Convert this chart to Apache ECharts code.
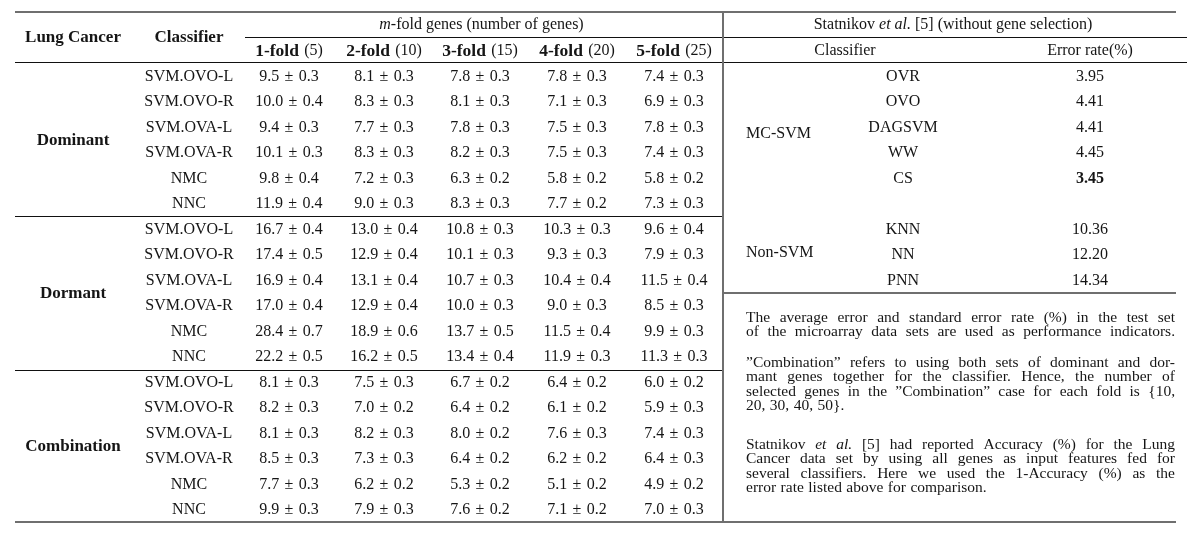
<!DOCTYPE html>
<html><head><meta charset="utf-8">
<script src="https://cdn.jsdelivr.net/npm/echarts@6.0.0/dist/echarts.min.js"></script>
<style>html,body{margin:0;padding:0;background:#fff}#c{width:1200px;height:542px}</style>
</head><body><div id="c"></div>
<script>
// ---------------- DATA ----------------
const groups = ['Dominant', 'Dormant', 'Combination'];
const classifiers = ['SVM.OVO-L', 'SVM.OVO-R', 'SVM.OVA-L', 'SVM.OVA-R', 'NMC', 'NNC'];
const foldNames = ['1-fold', '2-fold', '3-fold', '4-fold', '5-fold'];
const foldGenes = [5, 10, 15, 20, 25];

const dominantMean = [
  [9.5, 8.1, 7.8, 7.8, 7.4],
  [10.0, 8.3, 8.1, 7.1, 6.9],
  [9.4, 7.7, 7.8, 7.5, 7.8],
  [10.1, 8.3, 8.2, 7.5, 7.4],
  [9.8, 7.2, 6.3, 5.8, 5.8],
  [11.9, 9.0, 8.3, 7.7, 7.3]
];
const dominantSE = [
  [0.3, 0.3, 0.3, 0.3, 0.3],
  [0.4, 0.3, 0.3, 0.3, 0.3],
  [0.3, 0.3, 0.3, 0.3, 0.3],
  [0.3, 0.3, 0.3, 0.3, 0.3],
  [0.4, 0.3, 0.2, 0.2, 0.2],
  [0.4, 0.3, 0.3, 0.2, 0.3]
];
const dormantMean = [
  [16.7, 13.0, 10.8, 10.3, 9.6],
  [17.4, 12.9, 10.1, 9.3, 7.9],
  [16.9, 13.1, 10.7, 10.4, 11.5],
  [17.0, 12.9, 10.0, 9.0, 8.5],
  [28.4, 18.9, 13.7, 11.5, 9.9],
  [22.2, 16.2, 13.4, 11.9, 11.3]
];
const dormantSE = [
  [0.4, 0.4, 0.3, 0.3, 0.4],
  [0.5, 0.4, 0.3, 0.3, 0.3],
  [0.4, 0.4, 0.3, 0.4, 0.4],
  [0.4, 0.4, 0.3, 0.3, 0.3],
  [0.7, 0.6, 0.5, 0.4, 0.3],
  [0.5, 0.5, 0.4, 0.3, 0.3]
];
const combinationMean = [
  [8.1, 7.5, 6.7, 6.4, 6.0],
  [8.2, 7.0, 6.4, 6.1, 5.9],
  [8.1, 8.2, 8.0, 7.6, 7.4],
  [8.5, 7.3, 6.4, 6.2, 6.4],
  [7.7, 6.2, 5.3, 5.1, 4.9],
  [9.9, 7.9, 7.6, 7.1, 7.0]
];
const combinationSE = [
  [0.3, 0.3, 0.2, 0.2, 0.2],
  [0.3, 0.2, 0.2, 0.2, 0.3],
  [0.3, 0.3, 0.2, 0.3, 0.3],
  [0.3, 0.3, 0.2, 0.2, 0.3],
  [0.3, 0.2, 0.2, 0.2, 0.2],
  [0.3, 0.3, 0.2, 0.2, 0.3]
];

const statGroups = ['MC-SVM', 'Non-SVM'];
const mcsvmNames = ['OVR', 'OVO', 'DAGSVM', 'WW', 'CS'];
const mcsvmError = [3.95, 4.41, 4.41, 4.45, 3.45];
const nonsvmNames = ['KNN', 'NN', 'PNN'];
const nonsvmError = [10.36, 12.20, 14.34];
const bestStatIndex = 4;

// '*' prefix = italic word; second entry = justified line
const noteParagraphs = [
  [
    ['The average error and standard error rate (%) in the test set', true],
    ['of the microarray data sets are used as performance indicators.', true]
  ],
  [
    ['\u201DCombination\u201D refers to using both sets of dominant and dor-', true],
    ['mant genes together for the classifier.  Hence, the number of', true],
    ['selected genes in the \u201DCombination\u201D case for each fold is {10,', true],
    ['20, 30, 40, 50}.', false]
  ],
  [
    ['Statnikov *et *al. [5] had reported Accuracy (%) for the Lung', true],
    ['Cancer data set by using all genes as input features fed for', true],
    ['several classifiers.  Here we used the 1-Accuracy (%) as the', true],
    ['error rate listed above for comparison.', false]
  ]
];

// ---------------- LAYOUT ----------------
const FONT = '"Liberation Serif", "Times New Roman", serif';
const FS = 16;
const BFS = 17;
const NOTE_FS = 13.6;
const TXT = '#151515';
const LAY = {
  colX: [73, 189, 289, 384, 480, 577, 674],
  row0: 76.5, rowH: 25.5,
  hdr1: 25, hdrMid: 37.5, hdr2: 51,
  statHeadX: 953, statClsHeadX: 845, statNameX: 903, statValX: 1090, statGroupX: 746,
  noteLeft: 746, noteRight: 1175,
  noteY: [[318, 332.5], [363, 377.5, 392, 406.5], [445, 459.5, 474, 488.5]]
};
const rowY = i => LAY.row0 + LAY.rowH * i;

const texts = [];
function addText(x, y, text, o) {
  o = o || {};
  texts.push({ pos: [x, y], text: text, size: o.size || FS, weight: o.weight || 'normal',
    fstyle: o.fstyle || 'normal', align: o.align || 'center', rich: o.rich, sx: o.sx || 1 });
}
const richI = { i: { fontStyle: 'italic', fontFamily: FONT, fontSize: FS, fill: TXT } };
const richB = { b: { fontWeight: 'bold', fontFamily: FONT, fontSize: 17.5, fill: TXT } };

// headers
addText(LAY.colX[0], LAY.hdrMid, 'Lung Cancer', { weight: 'bold', size: BFS });
addText(LAY.colX[1], LAY.hdrMid, 'Classifier', { weight: 'bold', size: BFS });
addText((LAY.colX[2] + LAY.colX[6]) / 2, LAY.hdr1, '{i|m}-fold genes (number of genes)', { rich: richI });
foldNames.forEach((f, k) => addText(LAY.colX[2 + k], LAY.hdr2, '{b|' + f + '}\u2004(' + foldGenes[k] + ')', { rich: richB }));

// body
const groupMeans = [dominantMean, dormantMean, combinationMean];
const groupSEs = [dominantSE, dormantSE, combinationSE];
groups.forEach((g, gi) => {
  const r0 = gi * classifiers.length;
  addText(LAY.colX[0], (rowY(r0) + rowY(r0 + classifiers.length - 1)) / 2, g, { weight: 'bold', size: BFS });
  classifiers.forEach((c, ci) => {
    const y = rowY(r0 + ci);
    addText(LAY.colX[1], y, c);
    groupMeans[gi][ci].forEach((m, k) => {
      addText(LAY.colX[2 + k], y, m.toFixed(1) + '\u2004\u00B1\u2004' + groupSEs[gi][ci][k].toFixed(1));
    });
  });
});

// right block
addText(LAY.statHeadX, LAY.hdr1, 'Statnikov {i|et al.} [5] (without gene selection)', { rich: richI });
addText(LAY.statClsHeadX, LAY.hdr2, 'Classifier');
addText(LAY.statValX, LAY.hdr2, 'Error rate(%)');
addText(LAY.statGroupX, rowY(2.25), statGroups[0], { align: 'left' });
mcsvmNames.forEach((n, i) => {
  addText(LAY.statNameX, rowY(i), n);
  addText(LAY.statValX, rowY(i), mcsvmError[i].toFixed(2), { weight: i === bestStatIndex ? 'bold' : 'normal' });
});
addText(LAY.statGroupX, rowY(6.9), statGroups[1], { align: 'left' });
nonsvmNames.forEach((n, i) => {
  addText(LAY.statNameX, rowY(6 + i), n);
  addText(LAY.statValX, rowY(6 + i), nonsvmError[i].toFixed(2));
});

// notes (justified word by word, widened glyphs to mimic Computer Modern)
const cv = document.createElement('canvas').getContext('2d');
function measure(w, italic, size) {
  cv.font = (italic ? 'italic ' : '') + size + 'px ' + FONT;
  return cv.measureText(w).width;
}
const span = LAY.noteRight - LAY.noteLeft;
const allLines = [];
noteParagraphs.forEach((para, pi) => para.forEach((ln, li) => {
  const words = ln[0].split(/\s+/).map(w => w[0] === '*' ? { t: w.slice(1), it: true } : { t: w, it: false });
  words.forEach(w => { w.w = measure(w.t, w.it, NOTE_FS); });
  allLines.push({ y: LAY.noteY[pi][li], justify: ln[1], words: words });
}));
const MIN_GAP = 0.3 * NOTE_FS;
let noteScale = 1.14;
allLines.forEach(l => {
  if (!l.justify) return;
  const tot = l.words.reduce((a, w) => a + w.w, 0);
  noteScale = Math.min(noteScale, (span - (l.words.length - 1) * MIN_GAP) / tot);
});
allLines.forEach(l => {
  const total = l.words.reduce((a, w) => a + w.w * noteScale, 0);
  const gap = l.justify ? (span - total) / (l.words.length - 1) : 0.33 * NOTE_FS;
  let x = LAY.noteLeft;
  l.words.forEach(w => {
    addText(x, l.y, w.t, { align: 'left', size: NOTE_FS, fstyle: w.it ? 'italic' : 'normal', sx: noteScale });
    x += w.w * noteScale + gap;
  });
});

// rules: [x1, y1, x2, y2, kind]
const rules = [
  [15, 12, 1176, 12, 'thick'],
  [245, 37.5, 722, 37.5, 'thin'],
  [724, 37.5, 1187, 37.5, 'thin'],
  [15, 62.5, 1187, 62.5, 'thin'],
  [15, 216.5, 723, 216.5, 'thin'],
  [15, 370.5, 723, 370.5, 'thin'],
  [723, 293, 1176, 293, 'thick'],
  [15, 522, 1176, 522, 'thick'],
  [723, 12, 723, 522, 'vert']
];
const ruleStyle = {
  thick: { stroke: '#6f6f6f', lineWidth: 2 },
  thin: { stroke: '#111', lineWidth: 1.1 },
  vert: { stroke: '#6f6f6f', lineWidth: 2 }
};

// ---------------- CHART ----------------
const chart = echarts.init(document.getElementById('c'));
chart.setOption({
  animation: false,
  backgroundColor: '#fff',
  grid: { left: 0, right: 0, top: 0, bottom: 0 },
  xAxis: { type: 'value', min: 0, max: 1200, show: false },
  yAxis: { type: 'value', min: 0, max: 542, inverse: true, show: false },
  series: [
    {
      type: 'custom', clip: false, silent: true,
      data: rules.map(r => [r[0], r[1], r[2], r[3]]),
      renderItem: (params, api) => {
        const p1 = api.coord([api.value(0), api.value(1)]);
        const p2 = api.coord([api.value(2), api.value(3)]);
        return { type: 'line', shape: { x1: p1[0], y1: p1[1], x2: p2[0], y2: p2[1] },
          style: ruleStyle[rules[params.dataIndex][4]] };
      }
    },
    {
      type: 'custom', clip: false, silent: true,
      data: texts.map(t => t.pos),
      renderItem: (params, api) => {
        const t = texts[params.dataIndex];
        const p = api.coord([api.value(0), api.value(1)]);
        const style = { text: t.text, x: 0, y: 0, fill: TXT, fontFamily: FONT,
          fontSize: t.size, fontWeight: t.weight, fontStyle: t.fstyle,
          align: t.align, verticalAlign: 'middle' };
        if (t.rich) style.rich = t.rich;
        return { type: 'text', x: p[0], y: p[1], scaleX: t.sx, scaleY: 1, style: style };
      }
    }
  ]
});
</script></body></html>
